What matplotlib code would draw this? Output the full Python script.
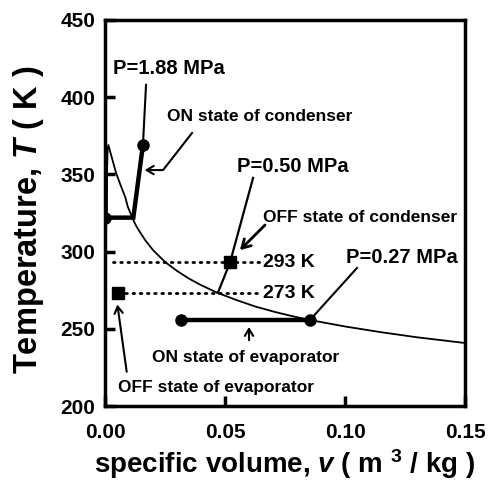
import matplotlib
matplotlib.use("Agg")
import matplotlib.pyplot as plt

plt.rcParams['font.family'] = ['Liberation Sans', 'DejaVu Sans']
plt.rcParams['font.weight'] = 'bold'
plt.rcParams['mathtext.fontset'] = 'custom'
plt.rcParams['mathtext.rm'] = 'Liberation Sans:bold'
plt.rcParams['mathtext.it'] = 'Liberation Sans:italic:bold'
plt.rcParams['mathtext.bf'] = 'Liberation Sans:bold'

# Saturation curve (dome + vapour line)
sat_v = [0.0008, 0.0009, 0.0011, 0.0014, 0.0030, 0.0046, 0.0065, 0.0085,
         0.0095, 0.0113, 0.0125, 0.0140, 0.0167, 0.0200, 0.0250, 0.0300,
         0.0350, 0.0400, 0.0470, 0.0550, 0.0625, 0.0708, 0.0780, 0.0854,
         0.1000, 0.1150, 0.1300, 0.1500]
sat_T = [322.0, 355.0, 366.0, 369.0, 360.0, 351.0, 343.0, 335.0,
         329.0, 322.4, 318.0, 314.0, 307.5, 301.0, 293.3, 287.5,
         282.5, 278.3, 273.2, 268.5, 264.5, 260.9, 258.2, 255.7,
         251.5, 247.8, 244.5, 240.8]

# Condenser isobar P = 1.88 MPa (ON state)
cond_on_v = [0.0, 0.0118, 0.0158]
cond_on_T = [322.0, 322.0, 369.0]

# Isobar P = 0.50 MPa through OFF state of condenser
p050_v = [0.047, 0.0521, 0.0617]
p050_T = [273.2, 293.0, 347.7]

# Evaporator isobar P = 0.27 MPa (ON state)
evap_on_v = [0.0317, 0.0854]
evap_on_T = [255.7, 255.7]

# OFF-state points
cond_off = (0.0521, 293.0)
evap_off = (0.0054, 273.0)

# Reference temperatures
ref_T = [293, 273]
ref_v_start = [0.0033, 0.0054]
ref_v_end = 0.0646

fig = plt.figure(figsize=(4.97, 4.80), dpi=100)
ax = fig.add_axes([105 / 497, 74 / 480, 360 / 497, 386 / 480])

ax.plot(sat_v, sat_T, color='black', lw=1.3)
ax.plot(cond_on_v, cond_on_T, color='black', lw=3.2, solid_joinstyle='miter')
ax.plot(p050_v, p050_T, color='black', lw=1.6)
ax.plot(evap_on_v, evap_on_T, color='black', lw=3.2)

# end-point markers
ax.plot([cond_on_v[0], cond_on_v[-1], evap_on_v[0], evap_on_v[-1]],
        [cond_on_T[0], cond_on_T[-1], evap_on_T[0], evap_on_T[-1]],
        'o', color='black', ms=8, ls='none')
ax.plot([cond_off[0], evap_off[0]], [cond_off[1], evap_off[1]],
        's', color='black', ms=8, ls='none')

# dotted reference temperatures
for T, v0 in zip(ref_T, ref_v_start):
    ax.plot([v0, ref_v_end], [T, T], color='black', lw=2.0,
            ls=(0, (0.6, 2.0)), dash_capstyle='round')
    ax.text(0.0658, T, f'{T} K', fontsize=14, fontweight='bold',
            ha='left', va='center')

# labels and leaders
ax.plot([cond_on_v[-1], 0.0171], [cond_on_T[-1], 408], color='black', lw=1.5)
ax.text(0.0033, 418.9, 'P=1.88 MPa', fontsize=14.5, fontweight='bold',
        ha='left', va='center')

ax.text(0.0258, 387.5, 'ON state of condenser', fontsize=12.5,
        fontweight='bold', ha='left', va='center')
ax.plot([0.03625, 0.0242, 0.0175], [376.8, 352.8, 352.8], color='black', lw=1.5)
ax.annotate('', xy=(0.0154, 352.8), xytext=(0.0200, 352.8),
            arrowprops=dict(arrowstyle='->,head_length=0.5,head_width=0.3',
                            color='black', lw=1.5))

ax.text(0.055, 355.0, 'P=0.50 MPa', fontsize=14.5, fontweight='bold',
        ha='left', va='center')

ax.text(0.0658, 321.8, 'OFF state of condenser', fontsize=12.5,
        fontweight='bold', ha='left', va='center')
ax.annotate('', xy=(0.0554, 299.7), xytext=(0.0675, 318.5),
            arrowprops=dict(arrowstyle='->,head_length=0.6,head_width=0.35',
                            color='black', lw=2.0))

ax.text(0.1004, 296.5, 'P=0.27 MPa', fontsize=14.5, fontweight='bold',
        ha='left', va='center')
ax.plot([0.105, evap_on_v[-1]], [289.4, evap_on_T[-1]], color='black', lw=1.5)

ax.text(0.0588, 231.1, 'ON state of evaporator', fontsize=12.5,
        fontweight='bold', ha='center', va='center')
ax.annotate('', xy=(0.0600, 253.0), xytext=(0.0600, 240.8),
            arrowprops=dict(arrowstyle='->,head_length=0.5,head_width=0.3',
                            color='black', lw=1.5))

ax.text(0.0463, 212.3, 'OFF state of evaporator', fontsize=12.5,
        fontweight='bold', ha='center', va='center')
ax.annotate('', xy=(0.0050, 267.5), xytext=(0.0092, 220.4),
            arrowprops=dict(arrowstyle='->,head_length=0.5,head_width=0.3',
                            color='black', lw=1.5))

ax.set_xlim(0, 0.15)
ax.set_ylim(200, 450)
ax.set_xticks([0.00, 0.05, 0.10, 0.15])
ax.set_xticklabels(['0.00', '0.05', '0.10', '0.15'])
ax.set_yticks([200, 250, 300, 350, 400, 450])
ax.tick_params(direction='in', length=7, width=2.5, labelsize=15)
ax.tick_params(axis='x', pad=12)
ax.tick_params(axis='y', pad=7)
for lab in ax.get_xticklabels() + ax.get_yticklabels():
    lab.set_fontweight('bold')
for s in ax.spines.values():
    s.set_linewidth(2.5)

ax.set_xlabel(r'specific volume, $v$ ( m $^{3}$ / kg )', fontsize=20,
              fontweight='bold', labelpad=4)
ax.set_ylabel(r'Temperature, $T$ ( K )', fontsize=23.5, fontweight='bold')
ax.yaxis.set_label_coords(-0.165, 0.482)

fig.savefig('out.png', dpi=100)
